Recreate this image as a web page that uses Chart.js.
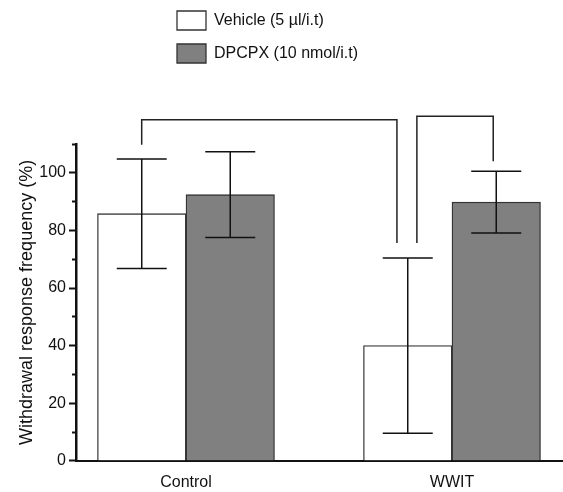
<!DOCTYPE html>
<html>
<head>
<meta charset="utf-8">
<script src="https://cdn.jsdelivr.net/npm/chart.js@4.4.1/dist/chart.umd.min.js"></script>
<style>
html,body{margin:0;padding:0;background:#fff;}
#wrap{width:563px;height:492px;}
</style>
</head>
<body>
<div id="wrap"><canvas id="c" width="563" height="492"></canvas></div>
<script>
// ---- data ----
const categories = ['Control', 'WWIT'];
const categoryPos = [1, 2];
const seriesNames = ['Vehicle (5 \u00b5l/i.t)', 'DPCPX (10 nmol/i.t)'];
const vehicleMeans = [85.8, 40.0];
const vehicleErr = [19.0, 30.4];
const dpcpxMeans = [92.4, 89.8];
const dpcpxErr = [14.9, 10.7];
const yTicks = [0, 20, 40, 60, 80, 100];
const yMin = 0, yMax = 110;
// significance brackets (x in category units, y in %)
const bracket1X = [0.8335, 0.8335, 1.793, 1.793];
const bracket1Y = [109.7, 118.4, 118.4, 75.6];
const bracket2X = [1.868, 1.868, 2.155, 2.155];
const bracket2Y = [75.6, 119.6, 119.6, 104.0];

const FONT = 'Liberation Sans, Arial, Helvetica, sans-serif';
const means = [vehicleMeans, dpcpxMeans];
const errs = [vehicleErr, dpcpxErr];
const brackets = [[bracket1X, bracket1Y], [bracket2X, bracket2Y]];

const errorBarPlugin = {
  id: 'errorBars',
  afterDatasetsDraw(chart) {
    const ctx = chart.ctx;
    const ys = chart.scales.y, xs = chart.scales.x;
    ctx.save();
    ctx.strokeStyle = '#111';
    ctx.lineWidth = 1.5;
    chart.data.datasets.forEach((ds, i) => {
      const meta = chart.getDatasetMeta(i);
      meta.data.forEach((el, j) => {
        const x = el.x;
        const top = ys.getPixelForValue(means[i][j] + errs[i][j]);
        const bot = ys.getPixelForValue(means[i][j] - errs[i][j]);
        const hw = 25;
        ctx.beginPath();
        ctx.moveTo(x, top); ctx.lineTo(x, bot);
        ctx.moveTo(x - hw, top); ctx.lineTo(x + hw, top);
        ctx.moveTo(x - hw, bot); ctx.lineTo(x + hw, bot);
        ctx.stroke();
      });
    });
    ctx.strokeStyle = '#222';
    brackets.forEach(([bx, by]) => {
      ctx.beginPath();
      bx.forEach((v, k) => {
        const px = xs.getPixelForValue(v), py = ys.getPixelForValue(by[k]);
        if (k === 0) ctx.moveTo(px, py); else ctx.lineTo(px, py);
      });
      ctx.stroke();
    });
    ctx.restore();
  }
};

const legendPlacer = {
  id: 'legendPlacer',
  afterLayout(chart) {
    const lg = chart.legend;
    if (!lg) return;
    lg.left = 163; lg.top = -3; lg.right = 420; lg.bottom = 100;
    lg.width = lg.right - lg.left; lg.height = lg.bottom - lg.top;
  }
};

new Chart(document.getElementById('c'), {
  type: 'bar',
  data: {
    datasets: [
      {
        label: seriesNames[0],
        data: categoryPos.map((p, i) => ({x: p, y: vehicleMeans[i]})),
        backgroundColor: '#ffffff',
        borderColor: '#333333',
        borderWidth: 1.3
      },
      {
        label: seriesNames[1],
        data: categoryPos.map((p, i) => ({x: p, y: dpcpxMeans[i]})),
        backgroundColor: '#808080',
        borderColor: '#333333',
        borderWidth: 1.3
      }
    ]
  },
  options: {
    responsive: false,
    animation: false,
    events: [],
    barThickness: 88.5,
    layout: {padding: {top: 144, left: 0, right: 0, bottom: 0}},
    plugins: {
      tooltip: {enabled: false},
      legend: {
        position: 'chartArea',
        align: 'start',
        labels: {
          boxWidth: 29, boxHeight: 19, padding: 14,
          color: '#111',
          font: {family: FONT, size: 16}
        }
      }
    },
    scales: {
      x: {
        type: 'linear',
        min: 0.5865, max: 2.4173,
        offset: false,
        grid: {display: true, drawOnChartArea: false, drawTicks: true, tickLength: 12,
               tickColor: 'rgba(0,0,0,0)', offset: false},
        border: {display: true, color: '#111', width: 2},
        ticks: {
          stepSize: 1, autoSkip: false, padding: 0, maxRotation: 0,
          color: '#111', font: {family: FONT, size: 16},
          callback: (v) => { const k = categoryPos.indexOf(v); return k >= 0 ? categories[k] : ''; }
        }
      },
      y: {
        min: yMin, max: yMax,
        afterFit(scale) { scale.width = 76; },
        grid: {
          display: true, drawOnChartArea: false, drawTicks: true,
          tickLength: 7, tickWidth: 2, tickColor: '#111',
          tickBorderDash: (c) => (c.tick && yTicks.includes(c.tick.value)) ? [] : [0, 3, 20]
        },
        border: {display: true, color: '#111', width: 2.5},
        ticks: {
          stepSize: 10, padding: 3, autoSkip: false,
          color: '#111', font: {family: FONT, size: 16},
          callback: (v) => yTicks.includes(v) ? String(v) : ''
        },
        title: {
          display: true,
          text: 'Withdrawal response frequency (%)',
          color: '#111',
          font: {family: FONT, size: 18},
          padding: {top: 16, bottom: 0}
        }
      }
    }
  },
  plugins: [errorBarPlugin, legendPlacer]
});
</script>
</body>
</html>
